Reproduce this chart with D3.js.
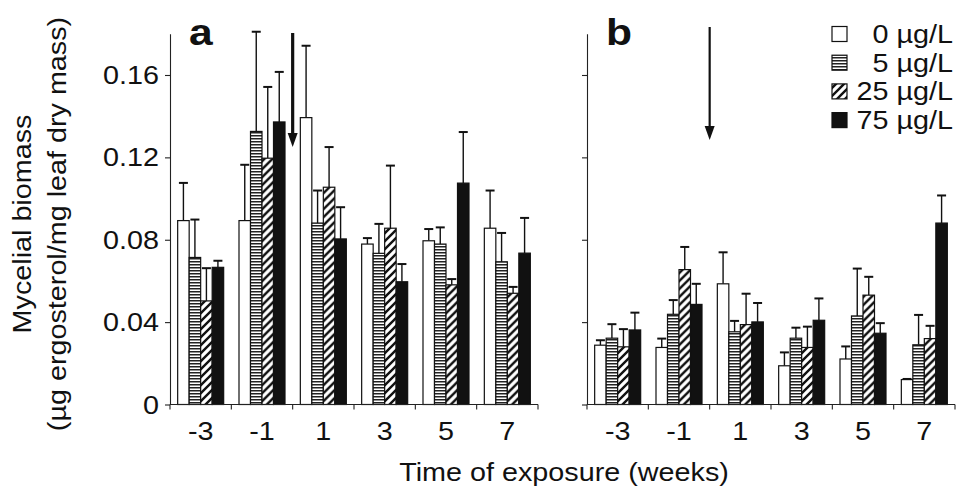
<!DOCTYPE html>
<html>
<head>
<meta charset="utf-8">
<script src="https://cdn.jsdelivr.net/npm/d3@7"></script>
<style>
  body { margin: 0; background: #fff; }
  svg { font-family: "Liberation Sans", Arial, Helvetica, sans-serif; }
</style>
</head>
<body>
<svg width="957" height="489"></svg>
<script>
var width = 957, height = 489;

// weeks of exposure, dose groups
var weeks = ["-3", "-1", "1", "3", "5", "7"];
var doses = ["0 µg/L", "5 µg/L", "25 µg/L", "75 µg/L"];
var yTicks = [0, 0.04, 0.08, 0.12, 0.16];

// panel a: mean per week, one value per dose (0, 5, 25, 75)
var meanA = [
  [0.0893, 0.0714, 0.0503, 0.0666],
  [0.0893, 0.1326, 0.1196, 0.1372],
  [0.1393, 0.0881, 0.1055, 0.0804],
  [0.0779, 0.0734, 0.0856, 0.0596],
  [0.0795, 0.0779, 0.0581, 0.1075],
  [0.0856, 0.0693, 0.0540, 0.0735]
];
var errA = [
  [0.0183, 0.0184, 0.0159, 0.0032],
  [0.0271, 0.0484, 0.0346, 0.0243],
  [0.0349, 0.0158, 0.0195, 0.0154],
  [0.0029, 0.0143, 0.0304, 0.0086],
  [0.0057, 0.0081, 0.0028, 0.0248],
  [0.0183, 0.0140, 0.0031, 0.0171]
];
// panel b
var meanB = [
  [0.0288, 0.0322, 0.0280, 0.0362],
  [0.0277, 0.0438, 0.0655, 0.0486],
  [0.0586, 0.0353, 0.0388, 0.0401],
  [0.0188, 0.0322, 0.0277, 0.0409],
  [0.0221, 0.0430, 0.0531, 0.0346],
  [0.0121, 0.0290, 0.0320, 0.0881]
];
var errB = [
  [0.0024, 0.0068, 0.0086, 0.0084],
  [0.0043, 0.0069, 0.0110, 0.0100],
  [0.0153, 0.0053, 0.0150, 0.0092],
  [0.0065, 0.0051, 0.0101, 0.0106],
  [0.0061, 0.0230, 0.0089, 0.0049],
  [0.0003, 0.0145, 0.0062, 0.0134]
];

var SX = 1.15;      // the original type is a bit wider than Arial
var fontSize = 25;

var svg = d3.select("svg");
var defs = svg.append("defs");

var hz = defs.append("pattern").attr("id", "horiz")
  .attr("patternUnits", "userSpaceOnUse").attr("width", 4).attr("height", 3);
hz.append("rect").attr("width", 4).attr("height", 3).attr("fill", "#fff");
hz.append("rect").attr("width", 4).attr("height", 1.5).attr("fill", "#222");

var dg = defs.append("pattern").attr("id", "diag")
  .attr("patternUnits", "userSpaceOnUse").attr("width", 8).attr("height", 8);
dg.append("rect").attr("width", 8).attr("height", 8).attr("fill", "#fff");
dg.append("path").attr("d", "M-2,2 L2,-2 M0,8 L8,0 M6,10 L10,6")
  .attr("stroke", "#111").attr("stroke-width", 2.4);

var fills = ["#fff", "url(#horiz)", "url(#diag)", "#111"];

var y = d3.scaleLinear().domain([0, 0.18]).range([404.5, 33.8]);

function label(g, x, yy, txt, anchor, size, weight) {
  return g.append("text")
    .attr("transform", "translate(" + x + "," + yy + ") scale(" + SX + ",1)")
    .attr("text-anchor", anchor || "middle")
    .style("font-size", (size || fontSize) + "px")
    .style("font-weight", weight || "normal")
    .attr("fill", "#111")
    .text(txt);
}

var panels = [
  { left: 170, right: 538, mean: meanA, err: errA, name: "a", showY: true, arrowW: 3.2, arrowTop: 33, arrowTip: 147 },
  { left: 587, right: 955, mean: meanB, err: errB, name: "b", showY: false, arrowW: 2.2, arrowTop: 27, arrowTip: 140 }
];

panels.forEach(function (p) {
  var g = svg.append("g");

  var x0 = d3.scaleBand().domain(weeks).range([p.left, p.right]);
  var bw = x0.bandwidth();
  var x1 = d3.scaleBand().domain(doses).range([bw * 0.125, bw * 0.875]);

  // bars
  weeks.forEach(function (w, i) {
    var grp = g.append("g").attr("transform", "translate(" + x0(w) + ",0)");
    doses.forEach(function (d, j) {
      var v = p.mean[i][j], e = p.err[i][j];
      var cx = x1(d) + x1.bandwidth() / 2;
      // error bar (upper only)
      grp.append("line")
        .attr("x1", cx).attr("x2", cx)
        .attr("y1", y(v)).attr("y2", y(v + e))
        .attr("stroke", "#111").attr("stroke-width", 1.4);
      grp.append("line")
        .attr("x1", cx - 4.5).attr("x2", cx + 4.5)
        .attr("y1", y(v + e)).attr("y2", y(v + e))
        .attr("stroke", "#111").attr("stroke-width", 2);
      grp.append("rect")
        .attr("x", x1(d)).attr("width", x1.bandwidth())
        .attr("y", y(v)).attr("height", y(0) - y(v))
        .attr("fill", fills[j])
        .attr("stroke", "#111").attr("stroke-width", 1.2);
    });
  });

  // y axis
  var yAxis = d3.axisLeft(y).tickValues(yTicks).tickSize(5).tickSizeOuter(0).tickFormat("");
  var ya = g.append("g").attr("transform", "translate(" + p.left + ",0)").call(yAxis);
  ya.selectAll("path, line").attr("stroke", "#222").attr("stroke-width", 1.1);
  if (p.showY) {
    yTicks.forEach(function (t) {
      label(g, p.left - 11, y(t) + 9, t === 0 ? "0" : d3.format(".2f")(t), "end");
    });
  }

  // x axis: line, ticks at group boundaries, labels at group centres
  g.append("line")
    .attr("x1", p.left).attr("x2", p.right)
    .attr("y1", y(0)).attr("y2", y(0))
    .attr("stroke", "#222").attr("stroke-width", 1.1);
  weeks.concat(["end"]).forEach(function (w) {
    var xx = w === "end" ? p.right : x0(w);
    g.append("line")
      .attr("x1", xx).attr("x2", xx)
      .attr("y1", y(0)).attr("y2", y(0) + 5)
      .attr("stroke", "#222").attr("stroke-width", 1.1);
  });
  weeks.forEach(function (w) {
    label(g, x0(w) + bw / 2, 440, w, "middle");
  });

  // panel letter
  label(g, p.left + 19, 45, p.name, "start", 37, "bold");

  // arrow at the start of exposure (between weeks -1 and 1)
  var ax = x0("1");
  g.append("line")
    .attr("x1", ax).attr("x2", ax)
    .attr("y1", p.arrowTop).attr("y2", p.arrowTip - 12)
    .attr("stroke", "#111").attr("stroke-width", p.arrowW);
  g.append("path")
    .attr("d", "M" + (ax - 5) + "," + (p.arrowTip - 14) + "L" + (ax + 5) + "," + (p.arrowTip - 14) + "L" + ax + "," + p.arrowTip + "Z")
    .attr("fill", "#111");
});

// legend
var leg = svg.append("g");
doses.forEach(function (d, j) {
  var cy = 34 + j * 28.7;
  leg.append("rect")
    .attr("x", 832).attr("y", cy - 7.5)
    .attr("width", 15).attr("height", 15)
    .attr("fill", fills[j])
    .attr("stroke", "#111").attr("stroke-width", 1.2);
  label(leg, 953, cy + 9, d, "end");
});

// axis titles
label(svg, 564, 481, "Time of exposure (weeks)", "middle");

var yt = svg.append("g").attr("transform", "translate(0,224) rotate(-90)");
label(yt, 0, 31, "Mycelial biomass", "middle");
label(yt, 0, 66, "(µg ergosterol/mg leaf dry mass)", "middle");
</script>
</body>
</html>
